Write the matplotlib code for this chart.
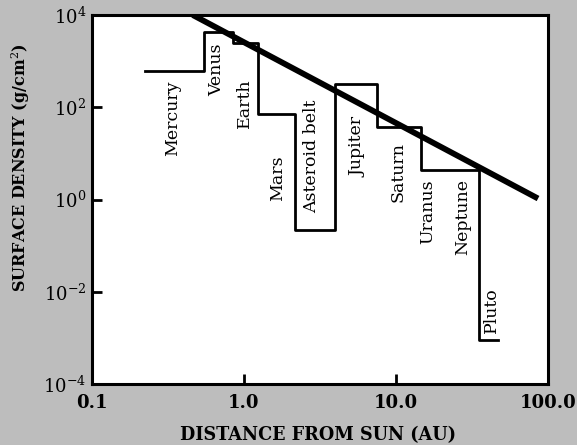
import matplotlib
matplotlib.use("Agg")
import matplotlib.pyplot as plt
import numpy as np

# Step-function edges (AU) and surface densities (g/cm^2)
edges = [0.223, 0.546, 0.85, 1.24, 2.17, 3.97, 7.5, 14.6, 35.2, 46.9]
levels = [610, 4260, 2430, 71, 0.217, 318, 37, 4.35, 0.00089]

# Fitted power law line endpoints
fit_x = [0.46, 86.0]
fit_y = [1.0e4, 1.05]

# Planet labels and their positions (data coords)
names = ["Mercury", "Venus", "Earth", "Mars", "Asteroid belt", "Jupiter",
         "Saturn", "Uranus", "Neptune", "Pluto"]
label_x = [0.341, 0.664, 1.015, 1.675, 2.80, 5.62, 10.3, 16.2, 27.6, 42.8]
label_y = [58, 641, 123, 2.91, 8.7, 13.7, 3.93, 0.533, 0.415, 0.004]

xticks = [0.1, 1.0, 10.0, 100.0]
xticklabels = ["0.1", "1.0", "10.0", "100.0"]
yticks = [1e-4, 1e-2, 1e0, 1e2, 1e4]
yticklabels = [r"$10^{-4}$", r"$10^{-2}$", r"$10^{0}$", r"$10^{2}$", r"$10^{4}$"]

plt.rcParams['font.family'] = ['DejaVu Serif']
plt.rcParams['mathtext.fontset'] = 'dejavuserif'

bg = '#bdbdbd'
fig = plt.figure(figsize=(5.77, 4.45), dpi=100, facecolor=bg)
ax = fig.add_axes([92/577, 1-384/445, (548-92)/577, (384-15)/445])
ax.set_facecolor('white')
ax.set_xscale('log')
ax.set_yscale('log')
ax.set_xlim(0.1, 100)
ax.set_ylim(1e-4, 1e4)

ax.step(edges, levels + [levels[-1]], where='post', color='black', lw=2.0)
ax.plot(fit_x, fit_y, color='black', lw=4.2, solid_capstyle='butt')

for n, x, y in zip(names, label_x, label_y):
    ax.text(x, y, n, rotation=90, ha='center', va='center', fontsize=12.5,
            color='black')

ax.set_xticks(xticks)
ax.set_xticklabels(xticklabels, fontsize=13, fontweight='semibold')
ax.set_yticks(yticks)
ax.set_yticklabels(yticklabels, fontsize=13)
ax.minorticks_off()
ax.tick_params(direction='in', length=7, width=2)
ax.tick_params(axis='x', pad=7)
ax.tick_params(axis='y', pad=4)

for s in ax.spines.values():
    s.set_linewidth(2.2)

fig.text(318/577, 1-435/445, "DISTANCE FROM SUN (AU)", ha='center', va='center',
         fontsize=12.7, fontweight='bold')
fig.text(21/577, 1-168/445, r"SURFACE DENSITY (g/cm$^{2}$)", ha='center', va='center',
         rotation=90, fontsize=11.5, fontweight='bold')

fig.savefig("out.png", dpi=100, facecolor=bg)
